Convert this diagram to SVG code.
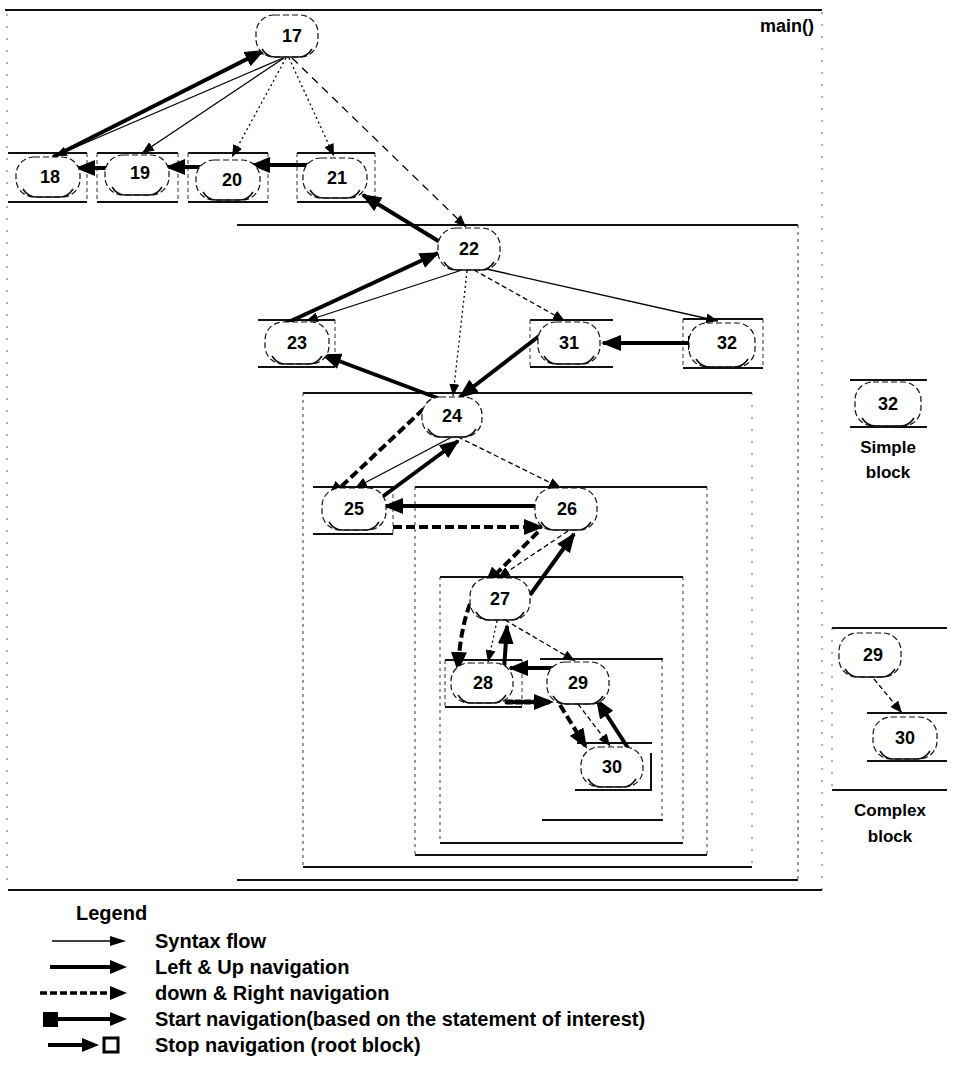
<svg xmlns="http://www.w3.org/2000/svg" width="953" height="1085" viewBox="0 0 953 1085">
<style>
.bg{fill:#fff}
.oval{fill:#fff;stroke:#111;stroke-width:1.2;stroke-dasharray:6 3}
.ovb{fill:none;stroke:#111;stroke-width:1.6}
.num{font-family:"Liberation Sans",Arial,sans-serif;font-size:18px;font-weight:bold;text-anchor:middle;fill:#000}
.lbl{font-family:"Liberation Sans",Arial,sans-serif;font-size:17px;font-weight:bold;text-anchor:middle;fill:#000}
.leg{font-family:"Liberation Sans",Arial,sans-serif;font-size:20px;font-weight:bold;fill:#000}
.hl{stroke:#111;stroke-width:2;fill:none}
.vl{stroke:#333;stroke-width:1;fill:none;stroke-dasharray:3 4}
.vf{stroke:#666;stroke-width:1;fill:none;stroke-dasharray:2 10}
.sd{stroke:#333;stroke-width:1;fill:none;stroke-dasharray:4 3}
.syn{stroke:#000;stroke-width:1.3;fill:none;marker-end:url(#ah)}
.dot{stroke-dasharray:2 3}
.dsh{stroke-dasharray:8 6}
.dsh2{stroke-dasharray:5 3}
.nav{stroke:#000;stroke-width:4;fill:none;marker-end:url(#AH)}
.dr{stroke:#000;stroke-width:4;fill:none;stroke-dasharray:9 4;marker-end:url(#AH)}
.drd{stroke:#000;stroke-width:5;fill:none;stroke-dasharray:5 4;stroke-linecap:round;marker-end:url(#AH)}
</style>
<defs>
<marker id="ah" markerUnits="userSpaceOnUse" markerWidth="12" markerHeight="10" refX="12" refY="5" orient="auto"><path d="M0,0 L12,5 L0,10 z" fill="#000"/></marker>
<marker id="AH" markerUnits="userSpaceOnUse" markerWidth="20" markerHeight="16" refX="18" refY="8" orient="auto"><path d="M0,0 L20,8 L0,16 z" fill="#000"/></marker>
<marker id="SQ" markerUnits="userSpaceOnUse" markerWidth="14" markerHeight="14" refX="7" refY="7" orient="auto"><rect x="0" y="0" width="14" height="14" fill="#000"/></marker>
</defs>
<rect class="bg" x="0" y="0" width="953" height="1085"/>

<g id="blocks">
  <path class="hl" d="M5,10 H822"/>
  <path class="vf" d="M822,12 V890"/>
  <path class="vf" d="M7,14 V890"/>
  <path class="hl" d="M8,890 H822"/>
  <text x="814" y="32" class="lbl" style="text-anchor:end;font-size:18px">main()</text>
  <path class="hl" d="M237,225 H798"/>
  <path class="vl" d="M798,225 V880"/>
  <path class="hl" d="M237,880 H798"/>
  <path class="hl" d="M303,393 H752"/>
  <path class="vl" d="M303,393 V867"/>
  <path class="vf" d="M752,393 V867"/>
  <path class="hl" d="M303,867 H752"/>
  <path class="hl" d="M415,487 H707"/>
  <path class="vl" d="M415,487 V855"/>
  <path class="vl" d="M707,487 V855"/>
  <path class="hl" d="M415,855 H707"/>
  <path class="hl" d="M440,577 H683"/>
  <path class="vl" d="M440,577 V843"/>
  <path class="vl" d="M683,577 V843"/>
  <path class="hl" d="M440,843 H683"/>
  <path class="hl" d="M540,659 H663"/>
  <path class="vl" d="M662,659 V820"/>
  <path class="hl" d="M542,820 H663"/>
  <path class="hl" d="M8,153 H87 M8,202 H87"/><path class="sd" d="M87,153 V202"/>
  <path class="hl" d="M97,153 H178 M97,202 H178"/><path class="sd" d="M97,153 V202 M178,153 V202"/>
  <path class="hl" d="M188,153 H268 M188,202 H268"/><path class="sd" d="M188,153 V202 M268,153 V202"/>
  <path class="hl" d="M297,153 H375 M297,202 H375"/><path class="sd" d="M297,153 V202 M375,153 V202"/>
  <path class="hl" d="M258,320 H335 M258,367 H335"/><path class="sd" d="M335,320 V367"/>
  <path class="hl" d="M530,320 H613 M530,367 H613"/><path class="sd" d="M530,320 V367"/>
  <path class="hl" d="M683,319 H763 M683,368 H763"/><path class="sd" d="M683,319 V368 M763,319 V368"/>
  <path class="hl" d="M313,487 H393 M313,534 H393"/><path class="sd" d="M393,487 V534"/>
  <path class="hl" d="M445,660 H522 M445,707 H522"/><path class="sd" d="M445,660 V707 M522,660 V707"/>
  <path class="hl" d="M577,743 H652 M575,790 H652 M651,753 V790"/>
  <path class="hl" d="M850,380 H927 M850,427 H927"/>
  <path class="hl" d="M832,628 H947 M832,790 H947"/>
  <path class="vf" d="M832,628 V790"/>
  <path class="hl" d="M867,713 H947 M867,761 H947"/>
</g>

<g id="connectors">
  <line class="syn" x1="283" y1="58" x2="55" y2="156"/>
  <line class="syn" x1="284" y1="58" x2="142" y2="153"/>
  <line class="syn dot" x1="286" y1="58" x2="232" y2="157"/>
  <line class="syn dot" x1="289" y1="58" x2="334" y2="156"/>
  <line class="syn dsh" x1="292" y1="58" x2="466" y2="227"/>
  <line class="syn" x1="462" y1="270" x2="306" y2="321"/>
  <line class="syn dot" x1="467" y1="271" x2="453" y2="396"/>
  <line class="syn dsh2" x1="474" y1="270" x2="565" y2="321"/>
  <line class="syn" x1="482" y1="268" x2="718" y2="321"/>
  <line class="syn" x1="452" y1="437" x2="355" y2="488"/>
  <line class="syn dsh2" x1="458" y1="437" x2="561" y2="488"/>
  <line class="syn dsh2" x1="568" y1="531" x2="498" y2="578"/>
  <line class="syn dot" x1="497" y1="621" x2="488" y2="662"/>
  <line class="syn dsh2" x1="505" y1="620" x2="575" y2="661"/>
  <line class="syn dsh2" x1="578" y1="704" x2="610" y2="746"/>
  <line class="syn dsh2" x1="874" y1="679" x2="902" y2="713"/>
  <line class="nav" x1="53" y1="157" x2="263" y2="51"/>
  <rect x="263" y="39" width="14" height="14" fill="#fff" stroke="#000" stroke-width="3"/>
  <line class="nav" x1="110" y1="168" x2="77" y2="168"/>
  <line class="nav" x1="203" y1="167" x2="167" y2="167"/>
  <line class="nav" x1="317" y1="165" x2="252" y2="165"/>
  <line class="nav" x1="440" y1="242" x2="363" y2="195"/>
  <line class="nav" x1="280" y1="326" x2="438" y2="253"/>
  <line class="nav" x1="440" y1="399" x2="323" y2="355"/>
  <line class="nav" x1="543" y1="333" x2="460" y2="397"/>
  <line class="nav" x1="378" y1="500" x2="458" y2="441"/>
  <line class="nav" x1="543" y1="506" x2="385" y2="506"/>
  <line class="nav" x1="530" y1="595" x2="574" y2="534"/>
  <line class="nav" x1="553" y1="668" x2="510" y2="668"/>
  <line class="nav" x1="503" y1="684" x2="507" y2="626"/>
  <line class="nav" x1="628" y1="748" x2="597" y2="700"/>
  <line class="nav" x1="695" y1="343" x2="603" y2="343" style="marker-start:url(#SQ)"/>
  <line class="dr" x1="433" y1="400" x2="328" y2="499"/>
  <line class="dr" x1="393" y1="527" x2="542" y2="527"/>
  <line class="dr" x1="538" y1="532" x2="485" y2="585"/>
  <path class="dr" d="M470,604 Q460,630 458,670"/>
  <line class="drd" x1="507" y1="702" x2="552" y2="702"/>
  <line class="dr" x1="560" y1="705" x2="586" y2="747"/>
</g>

<g id="n17" transform="translate(287,36)"><rect class="oval" x="-31" y="-21" width="62" height="42" rx="18"/><path class="ovb" d="M-25,13 Q-20,21 -12,21 L12,21 Q20,21 25,13"/><text class="num" x="5" y="6">17</text></g>
<g id="n18" transform="translate(48,177)"><rect class="oval" x="-32" y="-20" width="64" height="40" rx="18"/><path class="ovb" d="M-25,12 Q-20,20 -12,20 L12,20 Q20,20 25,12"/><text class="num" x="2" y="6">18</text></g>
<g id="n19" transform="translate(137,175)"><rect class="oval" x="-32" y="-20" width="64" height="40" rx="18"/><path class="ovb" d="M-25,12 Q-20,20 -12,20 L12,20 Q20,20 25,12"/><text class="num" x="3" y="4">19</text></g>
<g id="n20" transform="translate(228,180)"><rect class="oval" x="-32" y="-20" width="64" height="40" rx="18"/><path class="ovb" d="M-25,12 Q-20,20 -12,20 L12,20 Q20,20 25,12"/><text class="num" x="4" y="6">20</text></g>
<g id="n21" transform="translate(335,178)"><rect class="oval" x="-32" y="-20" width="64" height="40" rx="18"/><path class="ovb" d="M-25,12 Q-20,20 -12,20 L12,20 Q20,20 25,12"/><text class="num" x="2" y="6">21</text></g>
<g id="n22" transform="translate(469,249)"><rect class="oval" x="-31" y="-21" width="62" height="42" rx="18"/><path class="ovb" d="M-25,13 Q-20,21 -12,21 L12,21 Q20,21 25,13"/><text class="num" x="0" y="6">22</text></g>
<g id="n23" transform="translate(297,343)"><rect class="oval" x="-32" y="-21" width="64" height="42" rx="18"/><path class="ovb" d="M-25,13 Q-20,21 -12,21 L12,21 Q20,21 25,13"/><text class="num" x="0" y="6">23</text></g>
<g id="n31" transform="translate(569,343)"><rect class="oval" x="-31" y="-21" width="62" height="42" rx="18"/><path class="ovb" d="M-25,13 Q-20,21 -12,21 L12,21 Q20,21 25,13"/><text class="num" x="0" y="6">31</text></g>
<g id="n32" transform="translate(722,345)"><rect class="oval" x="-33" y="-22" width="66" height="44" rx="18"/><path class="ovb" d="M-26,14 Q-21,22 -12,22 L12,22 Q21,22 26,14"/><text class="num" x="5" y="4">32</text></g>
<g id="n24" transform="translate(452,417)"><rect class="oval" x="-30" y="-20" width="60" height="40" rx="18"/><path class="ovb" d="M-24,12 Q-19,20 -11,20 L11,20 Q19,20 24,12"/><text class="num" x="0" y="5">24</text></g>
<g id="n25" transform="translate(354,509)"><rect class="oval" x="-32" y="-21" width="64" height="42" rx="18"/><path class="ovb" d="M-25,13 Q-20,21 -12,21 L12,21 Q20,21 25,13"/><text class="num" x="0" y="6">25</text></g>
<g id="n26" transform="translate(566,509)"><rect class="oval" x="-31" y="-21" width="62" height="42" rx="18"/><path class="ovb" d="M-25,13 Q-20,21 -12,21 L12,21 Q20,21 25,13"/><text class="num" x="1" y="6">26</text></g>
<g id="n27" transform="translate(500,599)"><rect class="oval" x="-30" y="-21" width="60" height="42" rx="18"/><path class="ovb" d="M-24,13 Q-19,21 -11,21 L11,21 Q19,21 24,13"/><text class="num" x="0" y="6">27</text></g>
<g id="n28" transform="translate(482,683)"><rect class="oval" x="-31" y="-20" width="62" height="40" rx="18"/><path class="ovb" d="M-24,12 Q-19,20 -11,20 L11,20 Q19,20 24,12"/><text class="num" x="1" y="6">28</text></g>
<g id="n29" transform="translate(578,683)"><rect class="oval" x="-31" y="-21" width="62" height="42" rx="18"/><path class="ovb" d="M-25,13 Q-20,21 -12,21 L12,21 Q20,21 25,13"/><text class="num" x="0" y="6">29</text></g>
<g id="n30" transform="translate(612,767)"><rect class="oval" x="-31" y="-20" width="62" height="40" rx="18"/><path class="ovb" d="M-24,12 Q-19,20 -11,20 L11,20 Q19,20 24,12"/><text class="num" x="0" y="6">30</text></g>

<g id="legend-simple">
  <g id="s32" transform="translate(888,404)"><rect class="oval" x="-33" y="-22" width="66" height="44" rx="18"/><path class="ovb" d="M-26,14 Q-21,22 -12,22 L12,22 Q21,22 26,14"/><text class="num" x="0" y="6">32</text></g>
  <text class="lbl" x="888" y="453">Simple</text>
  <text class="lbl" x="888" y="478">block</text>
</g>
<g id="legend-complex">
  <g id="c29" transform="translate(870,655)"><rect class="oval" x="-31" y="-22" width="62" height="44" rx="18"/><path class="ovb" d="M-25,14 Q-20,22 -12,22 L12,22 Q20,22 25,14"/><text class="num" x="3" y="6">29</text></g>
  <g id="c30" transform="translate(905,738)"><rect class="oval" x="-32" y="-21" width="64" height="42" rx="18"/><path class="ovb" d="M-25,13 Q-20,21 -12,21 L12,21 Q20,21 25,13"/><text class="num" x="0" y="6">30</text></g>
  <text class="lbl" x="890" y="816">Complex</text>
  <text class="lbl" x="890" y="842">block</text>
</g>

<g id="legend">
  <text class="leg" x="76" y="920">Legend</text>
  <line x1="52" y1="941" x2="112" y2="941" stroke="#000" stroke-width="1.5"/><path d="M110,936 L126,941 L110,946 z"/>
  <text class="leg" x="155" y="948">Syntax flow</text>
  <line x1="50" y1="967" x2="112" y2="967" stroke="#000" stroke-width="4"/><path d="M110,960 L127,967 L110,974 z"/>
  <text class="leg" x="155" y="974">Left &amp; Up navigation</text>
  <line x1="40" y1="993" x2="112" y2="993" stroke="#000" stroke-width="3.5" stroke-dasharray="7 3"/><path d="M110,986 L127,993 L110,1000 z"/>
  <text class="leg" x="155" y="1000">down &amp; Right navigation</text>
  <rect x="43" y="1012" width="15" height="15" fill="#000"/>
  <line x1="56" y1="1019" x2="112" y2="1019" stroke="#000" stroke-width="4"/><path d="M110,1012 L127,1019 L110,1026 z"/>
  <text class="leg" x="155" y="1026">Start navigation(based on the statement of interest)</text>
  <line x1="48" y1="1045" x2="84" y2="1045" stroke="#000" stroke-width="4"/><path d="M82,1038 L99,1045 L82,1052 z"/>
  <rect x="104" y="1038" width="14" height="14" fill="#fff" stroke="#000" stroke-width="3"/>
  <text class="leg" x="155" y="1052">Stop navigation (root block)</text>
</g>
</svg>
